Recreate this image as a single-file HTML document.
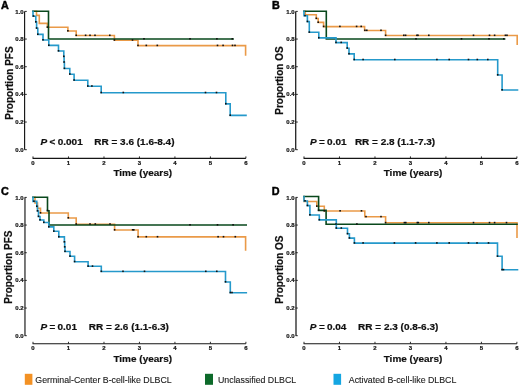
<!DOCTYPE html><html><head><meta charset="utf-8"><style>
html,body{margin:0;padding:0;background:#fff;width:520px;height:386px;overflow:hidden}
svg{display:block;will-change:transform} text{font-family:"Liberation Sans", sans-serif;}
.tl{font-size:6px;font-weight:bold;fill:#111;stroke:#111;stroke-width:0.2px}
.tt{font-size:10px;font-weight:bold;fill:#111;stroke:#111;stroke-width:0.2px}
.pl{font-size:10.8px;font-weight:bold;fill:#000;stroke:#000;stroke-width:0.45px}
.st{font-size:10px;font-weight:bold;fill:#111;stroke:#111;stroke-width:0.22px}
.lg{font-size:8.8px;fill:#1a1a1a;stroke:#1a1a1a;stroke-width:0.12px}
</style></head><body>
<svg width="520" height="386" viewBox="0 0 520 386">
<line x1="24.6" y1="11.4" x2="24.6" y2="149.7" stroke="#151515" stroke-width="1.15"/>
<line x1="24.6" y1="11.40" x2="26.8" y2="11.40" stroke="#151515" stroke-width="0.9"/>
<text x="23.700000000000003" y="13.50" text-anchor="end" class="tl">1.0</text>
<line x1="24.6" y1="39.06" x2="26.8" y2="39.06" stroke="#151515" stroke-width="0.9"/>
<text x="23.700000000000003" y="41.16" text-anchor="end" class="tl">0.8</text>
<line x1="24.6" y1="66.72" x2="26.8" y2="66.72" stroke="#151515" stroke-width="0.9"/>
<text x="23.700000000000003" y="68.82" text-anchor="end" class="tl">0.6</text>
<line x1="24.6" y1="94.38" x2="26.8" y2="94.38" stroke="#151515" stroke-width="0.9"/>
<text x="23.700000000000003" y="96.48" text-anchor="end" class="tl">0.4</text>
<line x1="24.6" y1="122.04" x2="26.8" y2="122.04" stroke="#151515" stroke-width="0.9"/>
<text x="23.700000000000003" y="124.14" text-anchor="end" class="tl">0.2</text>
<line x1="24.6" y1="149.70" x2="26.8" y2="149.70" stroke="#151515" stroke-width="0.9"/>
<text x="23.700000000000003" y="151.80" text-anchor="end" class="tl">0.0</text>
<line x1="32.6" y1="158.3" x2="245.9" y2="158.3" stroke="#151515" stroke-width="1.15"/>
<line x1="33.00" y1="158.3" x2="33.00" y2="156.4" stroke="#151515" stroke-width="0.9"/>
<text x="33.00" y="164.60" text-anchor="middle" class="tl">0</text>
<line x1="68.48" y1="158.3" x2="68.48" y2="156.4" stroke="#151515" stroke-width="0.9"/>
<text x="68.48" y="164.60" text-anchor="middle" class="tl">1</text>
<line x1="103.97" y1="158.3" x2="103.97" y2="156.4" stroke="#151515" stroke-width="0.9"/>
<text x="103.97" y="164.60" text-anchor="middle" class="tl">2</text>
<line x1="139.45" y1="158.3" x2="139.45" y2="156.4" stroke="#151515" stroke-width="0.9"/>
<text x="139.45" y="164.60" text-anchor="middle" class="tl">3</text>
<line x1="174.93" y1="158.3" x2="174.93" y2="156.4" stroke="#151515" stroke-width="0.9"/>
<text x="174.93" y="164.60" text-anchor="middle" class="tl">4</text>
<line x1="210.42" y1="158.3" x2="210.42" y2="156.4" stroke="#151515" stroke-width="0.9"/>
<text x="210.42" y="164.60" text-anchor="middle" class="tl">5</text>
<line x1="245.90" y1="158.3" x2="245.90" y2="156.4" stroke="#151515" stroke-width="0.9"/>
<text x="245.90" y="164.60" text-anchor="middle" class="tl">6</text>
<text transform="translate(113.40,175.5) scale(1,0.88)" class="tt">Time (years)</text>
<line x1="295.70000000000005" y1="11.4" x2="295.70000000000005" y2="149.7" stroke="#222" stroke-width="1.3"/>
<line x1="295.6" y1="11.40" x2="297.8" y2="11.40" stroke="#151515" stroke-width="0.9"/>
<text x="294.70000000000005" y="13.50" text-anchor="end" class="tl">1.0</text>
<line x1="295.6" y1="39.06" x2="297.8" y2="39.06" stroke="#151515" stroke-width="0.9"/>
<text x="294.70000000000005" y="41.16" text-anchor="end" class="tl">0.8</text>
<line x1="295.6" y1="66.72" x2="297.8" y2="66.72" stroke="#151515" stroke-width="0.9"/>
<text x="294.70000000000005" y="68.82" text-anchor="end" class="tl">0.6</text>
<line x1="295.6" y1="94.38" x2="297.8" y2="94.38" stroke="#151515" stroke-width="0.9"/>
<text x="294.70000000000005" y="96.48" text-anchor="end" class="tl">0.4</text>
<line x1="295.6" y1="122.04" x2="297.8" y2="122.04" stroke="#151515" stroke-width="0.9"/>
<text x="294.70000000000005" y="124.14" text-anchor="end" class="tl">0.2</text>
<line x1="295.6" y1="149.70" x2="297.8" y2="149.70" stroke="#151515" stroke-width="0.9"/>
<text x="294.70000000000005" y="151.80" text-anchor="end" class="tl">0.0</text>
<line x1="303.6" y1="158.3" x2="516.9" y2="158.3" stroke="#151515" stroke-width="1.15"/>
<line x1="304.00" y1="158.3" x2="304.00" y2="156.4" stroke="#151515" stroke-width="0.9"/>
<text x="304.00" y="164.60" text-anchor="middle" class="tl">0</text>
<line x1="339.48" y1="158.3" x2="339.48" y2="156.4" stroke="#151515" stroke-width="0.9"/>
<text x="339.48" y="164.60" text-anchor="middle" class="tl">1</text>
<line x1="374.97" y1="158.3" x2="374.97" y2="156.4" stroke="#151515" stroke-width="0.9"/>
<text x="374.97" y="164.60" text-anchor="middle" class="tl">2</text>
<line x1="410.45" y1="158.3" x2="410.45" y2="156.4" stroke="#151515" stroke-width="0.9"/>
<text x="410.45" y="164.60" text-anchor="middle" class="tl">3</text>
<line x1="445.93" y1="158.3" x2="445.93" y2="156.4" stroke="#151515" stroke-width="0.9"/>
<text x="445.93" y="164.60" text-anchor="middle" class="tl">4</text>
<line x1="481.42" y1="158.3" x2="481.42" y2="156.4" stroke="#151515" stroke-width="0.9"/>
<text x="481.42" y="164.60" text-anchor="middle" class="tl">5</text>
<line x1="516.90" y1="158.3" x2="516.90" y2="156.4" stroke="#151515" stroke-width="0.9"/>
<text x="516.90" y="164.60" text-anchor="middle" class="tl">6</text>
<text transform="translate(383.70,175.5) scale(1,0.88)" class="tt">Time (years)</text>
<line x1="24.950000000000003" y1="197.4" x2="24.950000000000003" y2="335.7" stroke="#6a6a6a" stroke-width="1.8"/>
<line x1="24.6" y1="197.40" x2="26.8" y2="197.40" stroke="#151515" stroke-width="0.9"/>
<text x="23.700000000000003" y="199.50" text-anchor="end" class="tl">1.0</text>
<line x1="24.6" y1="225.06" x2="26.8" y2="225.06" stroke="#151515" stroke-width="0.9"/>
<text x="23.700000000000003" y="227.16" text-anchor="end" class="tl">0.8</text>
<line x1="24.6" y1="252.72" x2="26.8" y2="252.72" stroke="#151515" stroke-width="0.9"/>
<text x="23.700000000000003" y="254.82" text-anchor="end" class="tl">0.6</text>
<line x1="24.6" y1="280.38" x2="26.8" y2="280.38" stroke="#151515" stroke-width="0.9"/>
<text x="23.700000000000003" y="282.48" text-anchor="end" class="tl">0.4</text>
<line x1="24.6" y1="308.04" x2="26.8" y2="308.04" stroke="#151515" stroke-width="0.9"/>
<text x="23.700000000000003" y="310.14" text-anchor="end" class="tl">0.2</text>
<line x1="24.6" y1="335.70" x2="26.8" y2="335.70" stroke="#151515" stroke-width="0.9"/>
<text x="23.700000000000003" y="337.80" text-anchor="end" class="tl">0.0</text>
<line x1="32.6" y1="343.70000000000005" x2="245.9" y2="343.70000000000005" stroke="#151515" stroke-width="1.15"/>
<line x1="33.00" y1="343.70000000000005" x2="33.00" y2="341.80000000000007" stroke="#151515" stroke-width="0.9"/>
<text x="33.00" y="350.00" text-anchor="middle" class="tl">0</text>
<line x1="68.48" y1="343.70000000000005" x2="68.48" y2="341.80000000000007" stroke="#151515" stroke-width="0.9"/>
<text x="68.48" y="350.00" text-anchor="middle" class="tl">1</text>
<line x1="103.97" y1="343.70000000000005" x2="103.97" y2="341.80000000000007" stroke="#151515" stroke-width="0.9"/>
<text x="103.97" y="350.00" text-anchor="middle" class="tl">2</text>
<line x1="139.45" y1="343.70000000000005" x2="139.45" y2="341.80000000000007" stroke="#151515" stroke-width="0.9"/>
<text x="139.45" y="350.00" text-anchor="middle" class="tl">3</text>
<line x1="174.93" y1="343.70000000000005" x2="174.93" y2="341.80000000000007" stroke="#151515" stroke-width="0.9"/>
<text x="174.93" y="350.00" text-anchor="middle" class="tl">4</text>
<line x1="210.42" y1="343.70000000000005" x2="210.42" y2="341.80000000000007" stroke="#151515" stroke-width="0.9"/>
<text x="210.42" y="350.00" text-anchor="middle" class="tl">5</text>
<line x1="245.90" y1="343.70000000000005" x2="245.90" y2="341.80000000000007" stroke="#151515" stroke-width="0.9"/>
<text x="245.90" y="350.00" text-anchor="middle" class="tl">6</text>
<text transform="translate(113.40,361.5) scale(1,0.88)" class="tt">Time (years)</text>
<line x1="296.0" y1="197.4" x2="296.0" y2="335.7" stroke="#555" stroke-width="1.7"/>
<line x1="295.6" y1="197.40" x2="297.8" y2="197.40" stroke="#151515" stroke-width="0.9"/>
<text x="294.70000000000005" y="199.50" text-anchor="end" class="tl">1.0</text>
<line x1="295.6" y1="225.06" x2="297.8" y2="225.06" stroke="#151515" stroke-width="0.9"/>
<text x="294.70000000000005" y="227.16" text-anchor="end" class="tl">0.8</text>
<line x1="295.6" y1="252.72" x2="297.8" y2="252.72" stroke="#151515" stroke-width="0.9"/>
<text x="294.70000000000005" y="254.82" text-anchor="end" class="tl">0.6</text>
<line x1="295.6" y1="280.38" x2="297.8" y2="280.38" stroke="#151515" stroke-width="0.9"/>
<text x="294.70000000000005" y="282.48" text-anchor="end" class="tl">0.4</text>
<line x1="295.6" y1="308.04" x2="297.8" y2="308.04" stroke="#151515" stroke-width="0.9"/>
<text x="294.70000000000005" y="310.14" text-anchor="end" class="tl">0.2</text>
<line x1="295.6" y1="335.70" x2="297.8" y2="335.70" stroke="#151515" stroke-width="0.9"/>
<text x="294.70000000000005" y="337.80" text-anchor="end" class="tl">0.0</text>
<line x1="303.6" y1="343.70000000000005" x2="516.9" y2="343.70000000000005" stroke="#151515" stroke-width="1.15"/>
<line x1="304.00" y1="343.70000000000005" x2="304.00" y2="341.80000000000007" stroke="#151515" stroke-width="0.9"/>
<text x="304.00" y="350.00" text-anchor="middle" class="tl">0</text>
<line x1="339.48" y1="343.70000000000005" x2="339.48" y2="341.80000000000007" stroke="#151515" stroke-width="0.9"/>
<text x="339.48" y="350.00" text-anchor="middle" class="tl">1</text>
<line x1="374.97" y1="343.70000000000005" x2="374.97" y2="341.80000000000007" stroke="#151515" stroke-width="0.9"/>
<text x="374.97" y="350.00" text-anchor="middle" class="tl">2</text>
<line x1="410.45" y1="343.70000000000005" x2="410.45" y2="341.80000000000007" stroke="#151515" stroke-width="0.9"/>
<text x="410.45" y="350.00" text-anchor="middle" class="tl">3</text>
<line x1="445.93" y1="343.70000000000005" x2="445.93" y2="341.80000000000007" stroke="#151515" stroke-width="0.9"/>
<text x="445.93" y="350.00" text-anchor="middle" class="tl">4</text>
<line x1="481.42" y1="343.70000000000005" x2="481.42" y2="341.80000000000007" stroke="#151515" stroke-width="0.9"/>
<text x="481.42" y="350.00" text-anchor="middle" class="tl">5</text>
<line x1="516.90" y1="343.70000000000005" x2="516.90" y2="341.80000000000007" stroke="#151515" stroke-width="0.9"/>
<text x="516.90" y="350.00" text-anchor="middle" class="tl">6</text>
<text transform="translate(383.70,361.5) scale(1,0.88)" class="tt">Time (years)</text>
<text x="1.0" y="8.8" class="pl">A</text>
<text x="272.0" y="8.9" class="pl">B</text>
<text x="0.9" y="195.0" class="pl">C</text>
<text x="271.8" y="195.1" class="pl">D</text>
<text transform="translate(12.9,46.4) rotate(-90)" text-anchor="end" class="tt">Proportion PFS</text>
<text transform="translate(283.4,46.4) rotate(-90)" text-anchor="end" class="tt">Proportion OS</text>
<text transform="translate(12.2,303.8) rotate(-90)" class="tt">Proportion PFS</text>
<text transform="translate(283.0,303.8) rotate(-90)" class="tt">Proportion OS</text>
<g transform="translate(0,145.3) scale(1,0.88)">
<text x="40.6" y="0" class="st" font-style="italic">P</text>
<text x="49.5" y="0" class="st">&lt;</text>
<text x="57.7" y="0" class="st">0.001</text>
<text x="94.30000000000001" y="0" class="st">RR = 3.6 (1.6-8.4)</text>
</g>
<g transform="translate(0,145.3) scale(1,0.88)">
<text x="310.0" y="0" class="st" font-style="italic">P</text>
<text x="319.1" y="0" class="st">=</text>
<text x="327.1" y="0" class="st">0.01</text>
<text x="354.9" y="0" class="st">RR = 2.8 (1.1-7.3)</text>
</g>
<g transform="translate(0,330.1) scale(1,0.88)">
<text x="40.4" y="0" class="st" font-style="italic">P</text>
<text x="49.5" y="0" class="st">=</text>
<text x="57.5" y="0" class="st">0.01</text>
<text x="88.7" y="0" class="st">RR = 2.6 (1.1-6.3)</text>
</g>
<g transform="translate(0,330.1) scale(1,0.88)">
<text x="309.8" y="0" class="st" font-style="italic">P</text>
<text x="318.90000000000003" y="0" class="st">=</text>
<text x="326.90000000000003" y="0" class="st">0.04</text>
<text x="358.09999999999997" y="0" class="st">RR = 2.3 (0.8-6.3)</text>
</g>
<path d="M33,11.3 H36.5 V15.4 H39.3 V23.4 H47.4 V27.3 H67.9 V31 H76.2 V35.5 H114.4 V40.2 H138 V45.6 H245.6 V55" fill="none" stroke="#EA9A48" stroke-width="1.6" stroke-linejoin="miter" stroke-linecap="square"/>
<path d="M33,11.3 H48.5 V39 H233.1" fill="none" stroke="#09481C" stroke-width="1.6" stroke-linejoin="miter" stroke-linecap="square"/>
<path d="M33,11.3 V16.2 H35.8 V22 H36.6 V28.2 H37.8 V34.4 H43 V40 H48.8 V45.4 H58.5 V51 H63.8 V56.5 H64.1 V62.2 H64.4 V68.5 H69.8 V74.2 H74.1 V80.2 H87.8 V86.2 H101.2 V92.7 H225.8 V103.9 H230.2 V115.4 H246" fill="none" stroke="#2599CB" stroke-width="1.6" stroke-linejoin="miter" stroke-linecap="square"/>
<rect x="46.60" y="26.30" width="1.6" height="1.6" fill="#111"/><rect x="67.10" y="30.00" width="1.6" height="1.6" fill="#111"/><rect x="75.40" y="34.50" width="1.6" height="1.6" fill="#111"/><rect x="84.80" y="34.50" width="1.6" height="1.6" fill="#111"/><rect x="89.20" y="34.50" width="1.6" height="1.6" fill="#111"/><rect x="94.20" y="34.50" width="1.6" height="1.6" fill="#111"/><rect x="109.00" y="34.50" width="1.6" height="1.6" fill="#111"/><rect x="113.60" y="39.20" width="1.6" height="1.6" fill="#111"/><rect x="131.70" y="39.20" width="1.6" height="1.6" fill="#111"/><rect x="137.20" y="44.60" width="1.6" height="1.6" fill="#111"/><rect x="145.50" y="44.60" width="1.6" height="1.6" fill="#111"/><rect x="156.50" y="44.60" width="1.6" height="1.6" fill="#111"/><rect x="216.70" y="44.60" width="1.6" height="1.6" fill="#111"/><rect x="222.30" y="44.60" width="1.6" height="1.6" fill="#111"/><rect x="231.70" y="44.60" width="1.6" height="1.6" fill="#111"/><rect x="234.20" y="44.60" width="1.6" height="1.6" fill="#111"/><rect x="143.20" y="38.00" width="1.6" height="1.6" fill="#111"/><rect x="189.20" y="38.00" width="1.6" height="1.6" fill="#111"/><rect x="216.10" y="38.00" width="1.6" height="1.6" fill="#111"/><rect x="231.50" y="38.00" width="1.6" height="1.6" fill="#111"/><rect x="32.70" y="15.20" width="1.6" height="1.6" fill="#111"/><rect x="35.00" y="21.00" width="1.6" height="1.6" fill="#111"/><rect x="35.80" y="27.20" width="1.6" height="1.6" fill="#111"/><rect x="37.00" y="33.40" width="1.6" height="1.6" fill="#111"/><rect x="42.20" y="39.00" width="1.6" height="1.6" fill="#111"/><rect x="48.00" y="44.40" width="1.6" height="1.6" fill="#111"/><rect x="57.70" y="50.00" width="1.6" height="1.6" fill="#111"/><rect x="63.00" y="55.50" width="1.6" height="1.6" fill="#111"/><rect x="63.30" y="61.20" width="1.6" height="1.6" fill="#111"/><rect x="63.60" y="67.50" width="1.6" height="1.6" fill="#111"/><rect x="69.00" y="73.20" width="1.6" height="1.6" fill="#111"/><rect x="73.30" y="79.20" width="1.6" height="1.6" fill="#111"/><rect x="87.00" y="85.20" width="1.6" height="1.6" fill="#111"/><rect x="91.10" y="85.20" width="1.6" height="1.6" fill="#111"/><rect x="100.40" y="91.70" width="1.6" height="1.6" fill="#111"/><rect x="122.50" y="91.70" width="1.6" height="1.6" fill="#111"/><rect x="204.70" y="91.70" width="1.6" height="1.6" fill="#111"/><rect x="215.70" y="91.70" width="1.6" height="1.6" fill="#111"/><rect x="225.00" y="102.90" width="1.6" height="1.6" fill="#111"/><rect x="229.40" y="114.40" width="1.6" height="1.6" fill="#111"/>
<path d="M304,11.2 H305.3 V14.8 H316.3 V18.5 H318.2 V22.4 H323.6 V26.6 H364.6 V30.5 H385.6 V35.5 H517.2 V44.2" fill="none" stroke="#EA9A48" stroke-width="1.6" stroke-linejoin="miter" stroke-linecap="square"/>
<path d="M304,11.2 H326.3 V39 H504.6" fill="none" stroke="#09481C" stroke-width="1.6" stroke-linejoin="miter" stroke-linecap="square"/>
<path d="M304,11.2 V15.8 H307.4 V21.6 H309.3 V32.3 H318.8 V37.9 H336 V42.6 H347.2 V48.2 H349 V53.9 H354.2 V59.7 H497.7 V75 H502.1 V90 H517.5" fill="none" stroke="#2599CB" stroke-width="1.6" stroke-linejoin="miter" stroke-linecap="square"/>
<rect x="315.50" y="17.50" width="1.6" height="1.6" fill="#111"/><rect x="317.40" y="21.40" width="1.6" height="1.6" fill="#111"/><rect x="322.80" y="25.60" width="1.6" height="1.6" fill="#111"/><rect x="339.10" y="25.60" width="1.6" height="1.6" fill="#111"/><rect x="355.80" y="25.60" width="1.6" height="1.6" fill="#111"/><rect x="360.40" y="25.60" width="1.6" height="1.6" fill="#111"/><rect x="364.10" y="29.50" width="1.6" height="1.6" fill="#111"/><rect x="366.00" y="29.50" width="1.6" height="1.6" fill="#111"/><rect x="380.20" y="29.50" width="1.6" height="1.6" fill="#111"/><rect x="384.80" y="34.50" width="1.6" height="1.6" fill="#111"/><rect x="403.00" y="34.50" width="1.6" height="1.6" fill="#111"/><rect x="404.80" y="34.50" width="1.6" height="1.6" fill="#111"/><rect x="416.10" y="34.50" width="1.6" height="1.6" fill="#111"/><rect x="417.20" y="34.50" width="1.6" height="1.6" fill="#111"/><rect x="428.00" y="34.50" width="1.6" height="1.6" fill="#111"/><rect x="472.70" y="34.50" width="1.6" height="1.6" fill="#111"/><rect x="488.70" y="34.50" width="1.6" height="1.6" fill="#111"/><rect x="493.80" y="34.50" width="1.6" height="1.6" fill="#111"/><rect x="504.60" y="34.50" width="1.6" height="1.6" fill="#111"/><rect x="506.20" y="34.50" width="1.6" height="1.6" fill="#111"/><rect x="415.20" y="38.00" width="1.6" height="1.6" fill="#111"/><rect x="460.70" y="38.00" width="1.6" height="1.6" fill="#111"/><rect x="488.20" y="38.00" width="1.6" height="1.6" fill="#111"/><rect x="503.00" y="38.00" width="1.6" height="1.6" fill="#111"/><rect x="304.20" y="14.80" width="1.6" height="1.6" fill="#111"/><rect x="306.60" y="20.60" width="1.6" height="1.6" fill="#111"/><rect x="308.50" y="31.30" width="1.6" height="1.6" fill="#111"/><rect x="318.00" y="36.90" width="1.6" height="1.6" fill="#111"/><rect x="335.20" y="41.60" width="1.6" height="1.6" fill="#111"/><rect x="340.40" y="41.60" width="1.6" height="1.6" fill="#111"/><rect x="346.40" y="47.20" width="1.6" height="1.6" fill="#111"/><rect x="348.20" y="52.90" width="1.6" height="1.6" fill="#111"/><rect x="353.40" y="58.70" width="1.6" height="1.6" fill="#111"/><rect x="362.30" y="58.70" width="1.6" height="1.6" fill="#111"/><rect x="394.00" y="58.70" width="1.6" height="1.6" fill="#111"/><rect x="436.10" y="58.70" width="1.6" height="1.6" fill="#111"/><rect x="448.40" y="58.70" width="1.6" height="1.6" fill="#111"/><rect x="467.70" y="58.70" width="1.6" height="1.6" fill="#111"/><rect x="476.50" y="58.70" width="1.6" height="1.6" fill="#111"/><rect x="487.00" y="58.70" width="1.6" height="1.6" fill="#111"/><rect x="496.90" y="74.00" width="1.6" height="1.6" fill="#111"/><rect x="501.30" y="89.00" width="1.6" height="1.6" fill="#111"/>
<path d="M33,197.3 H35 V203 H37.5 V208.4 H40.5 V213 H68.3 V218 H76.2 V224.2 H114.6 V230 H138.1 V236.9 H245.6 V250" fill="none" stroke="#EA9A48" stroke-width="1.6" stroke-linejoin="miter" stroke-linecap="square"/>
<path d="M33,197.3 H47.5 V210.7 H49 V225 H246.2" fill="none" stroke="#09481C" stroke-width="1.6" stroke-linejoin="miter" stroke-linecap="square"/>
<path d="M33,197.3 V201.4 H36.8 V206.4 H37.5 V211 H38.5 V216.5 H40 V220 H43.8 V222.5 H48.8 V226.9 H53.8 V231.3 H58.8 V236.9 H64.4 V242 H64.7 V247 H65 V251.5 H70 V256.3 H74.6 V261.7 H88.1 V266.3 H101.3 V271.5 H225.5 V282 H230.3 V292.7 H246.3" fill="none" stroke="#2599CB" stroke-width="1.6" stroke-linejoin="miter" stroke-linecap="square"/>
<rect x="39.70" y="212.00" width="1.6" height="1.6" fill="#111"/><rect x="67.50" y="217.00" width="1.6" height="1.6" fill="#111"/><rect x="75.40" y="223.20" width="1.6" height="1.6" fill="#111"/><rect x="89.20" y="223.20" width="1.6" height="1.6" fill="#111"/><rect x="94.50" y="223.20" width="1.6" height="1.6" fill="#111"/><rect x="109.20" y="223.20" width="1.6" height="1.6" fill="#111"/><rect x="113.80" y="229.00" width="1.6" height="1.6" fill="#111"/><rect x="131.80" y="229.00" width="1.6" height="1.6" fill="#111"/><rect x="133.00" y="229.00" width="1.6" height="1.6" fill="#111"/><rect x="137.30" y="235.90" width="1.6" height="1.6" fill="#111"/><rect x="145.50" y="235.90" width="1.6" height="1.6" fill="#111"/><rect x="156.70" y="235.90" width="1.6" height="1.6" fill="#111"/><rect x="217.30" y="235.90" width="1.6" height="1.6" fill="#111"/><rect x="222.70" y="235.90" width="1.6" height="1.6" fill="#111"/><rect x="234.50" y="235.90" width="1.6" height="1.6" fill="#111"/><rect x="46.70" y="209.70" width="1.6" height="1.6" fill="#111"/><rect x="189.20" y="224.00" width="1.6" height="1.6" fill="#111"/><rect x="216.70" y="224.00" width="1.6" height="1.6" fill="#111"/><rect x="232.30" y="224.00" width="1.6" height="1.6" fill="#111"/><rect x="33.10" y="200.40" width="1.6" height="1.6" fill="#111"/><rect x="36.00" y="205.40" width="1.6" height="1.6" fill="#111"/><rect x="36.70" y="210.00" width="1.6" height="1.6" fill="#111"/><rect x="37.70" y="215.50" width="1.6" height="1.6" fill="#111"/><rect x="39.20" y="219.00" width="1.6" height="1.6" fill="#111"/><rect x="43.00" y="221.50" width="1.6" height="1.6" fill="#111"/><rect x="48.00" y="225.90" width="1.6" height="1.6" fill="#111"/><rect x="53.00" y="230.30" width="1.6" height="1.6" fill="#111"/><rect x="58.00" y="235.90" width="1.6" height="1.6" fill="#111"/><rect x="63.60" y="241.00" width="1.6" height="1.6" fill="#111"/><rect x="63.90" y="246.00" width="1.6" height="1.6" fill="#111"/><rect x="64.20" y="250.50" width="1.6" height="1.6" fill="#111"/><rect x="69.20" y="255.30" width="1.6" height="1.6" fill="#111"/><rect x="73.80" y="260.70" width="1.6" height="1.6" fill="#111"/><rect x="87.30" y="265.30" width="1.6" height="1.6" fill="#111"/><rect x="91.70" y="265.30" width="1.6" height="1.6" fill="#111"/><rect x="100.50" y="270.50" width="1.6" height="1.6" fill="#111"/><rect x="122.20" y="270.50" width="1.6" height="1.6" fill="#111"/><rect x="143.70" y="270.50" width="1.6" height="1.6" fill="#111"/><rect x="205.00" y="270.50" width="1.6" height="1.6" fill="#111"/><rect x="216.00" y="270.50" width="1.6" height="1.6" fill="#111"/><rect x="224.70" y="281.00" width="1.6" height="1.6" fill="#111"/><rect x="229.50" y="291.70" width="1.6" height="1.6" fill="#111"/><rect x="231.20" y="291.70" width="1.6" height="1.6" fill="#111"/>
<path d="M304,196.5 V201.5 H316.8 V206.3 H324.3 V211 H364.8 V216.8 H385.6 V222.8 H517 V237.3" fill="none" stroke="#EA9A48" stroke-width="1.6" stroke-linejoin="miter" stroke-linecap="square"/>
<path d="M304,196.5 H318.6 V210.4 H326.1 V224.2 H517" fill="none" stroke="#09481C" stroke-width="1.6" stroke-linejoin="miter" stroke-linecap="square"/>
<path d="M304,196.5 V201 H307.4 V205.6 H309.9 V215 H319.3 V219.9 H336.3 V228.2 H347.5 V233.8 H349.4 V238.1 H354.4 V243.1 H497.5 V256.3 H502.1 V269.8 H517.5" fill="none" stroke="#2599CB" stroke-width="1.6" stroke-linejoin="miter" stroke-linecap="square"/>
<rect x="316.00" y="205.30" width="1.6" height="1.6" fill="#111"/><rect x="323.50" y="210.00" width="1.6" height="1.6" fill="#111"/><rect x="339.30" y="210.00" width="1.6" height="1.6" fill="#111"/><rect x="360.70" y="210.00" width="1.6" height="1.6" fill="#111"/><rect x="365.20" y="215.80" width="1.6" height="1.6" fill="#111"/><rect x="380.20" y="215.80" width="1.6" height="1.6" fill="#111"/><rect x="384.80" y="221.80" width="1.6" height="1.6" fill="#111"/><rect x="403.60" y="221.80" width="1.6" height="1.6" fill="#111"/><rect x="405.00" y="221.80" width="1.6" height="1.6" fill="#111"/><rect x="416.50" y="221.80" width="1.6" height="1.6" fill="#111"/><rect x="417.50" y="221.80" width="1.6" height="1.6" fill="#111"/><rect x="428.00" y="221.80" width="1.6" height="1.6" fill="#111"/><rect x="472.70" y="221.80" width="1.6" height="1.6" fill="#111"/><rect x="488.70" y="221.80" width="1.6" height="1.6" fill="#111"/><rect x="493.80" y="221.80" width="1.6" height="1.6" fill="#111"/><rect x="505.70" y="221.80" width="1.6" height="1.6" fill="#111"/><rect x="317.80" y="209.40" width="1.6" height="1.6" fill="#111"/><rect x="335.20" y="223.20" width="1.6" height="1.6" fill="#111"/><rect x="356.10" y="223.20" width="1.6" height="1.6" fill="#111"/><rect x="304.20" y="200.00" width="1.6" height="1.6" fill="#111"/><rect x="306.60" y="204.60" width="1.6" height="1.6" fill="#111"/><rect x="309.10" y="214.00" width="1.6" height="1.6" fill="#111"/><rect x="318.50" y="218.90" width="1.6" height="1.6" fill="#111"/><rect x="335.50" y="227.20" width="1.6" height="1.6" fill="#111"/><rect x="340.50" y="227.20" width="1.6" height="1.6" fill="#111"/><rect x="346.70" y="232.80" width="1.6" height="1.6" fill="#111"/><rect x="348.60" y="237.10" width="1.6" height="1.6" fill="#111"/><rect x="353.60" y="242.10" width="1.6" height="1.6" fill="#111"/><rect x="362.30" y="242.10" width="1.6" height="1.6" fill="#111"/><rect x="393.60" y="242.10" width="1.6" height="1.6" fill="#111"/><rect x="414.80" y="242.10" width="1.6" height="1.6" fill="#111"/><rect x="436.10" y="242.10" width="1.6" height="1.6" fill="#111"/><rect x="448.40" y="242.10" width="1.6" height="1.6" fill="#111"/><rect x="467.70" y="242.10" width="1.6" height="1.6" fill="#111"/><rect x="476.20" y="242.10" width="1.6" height="1.6" fill="#111"/><rect x="487.70" y="242.10" width="1.6" height="1.6" fill="#111"/><rect x="496.70" y="255.30" width="1.6" height="1.6" fill="#111"/><rect x="501.30" y="268.80" width="1.6" height="1.6" fill="#111"/><rect x="502.70" y="268.80" width="1.6" height="1.6" fill="#111"/>
<rect x="24.8" y="373.8" width="7.6" height="11" fill="#F39124"/>
<text x="35.3" y="382.6" class="lg">Germinal-Center B-cell-like DLBCL</text>
<rect x="205" y="373.8" width="8" height="11" fill="#0D6A2A"/>
<text x="218" y="382.6" class="lg">Unclassified DLBCL</text>
<rect x="333.5" y="373.8" width="7.6" height="11" fill="#14A6E2"/>
<text x="348.8" y="382.6" class="lg">Activated B-cell-like DLBCL</text>
</svg></body></html>
